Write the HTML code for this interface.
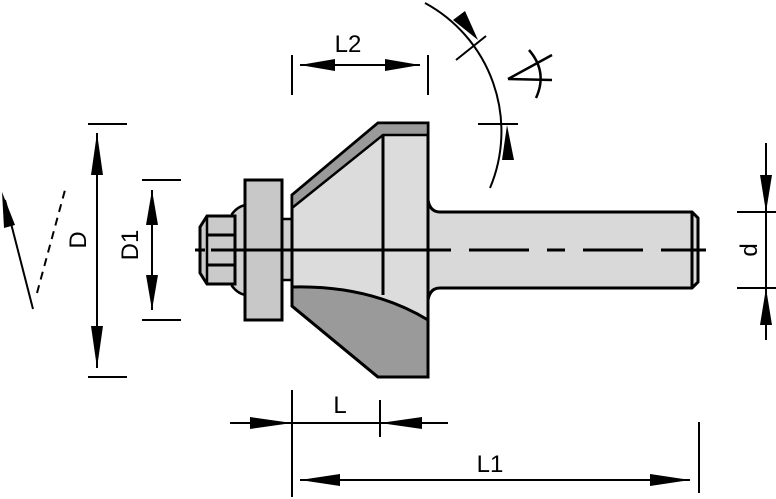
<!DOCTYPE html>
<html><head><meta charset="utf-8"><style>html,body{margin:0;padding:0;background:#fff}svg{display:block}</style></head>
<body>
<svg width="776" height="499" viewBox="0 0 776 499" xmlns="http://www.w3.org/2000/svg" font-family="Liberation Sans, sans-serif">
<path d="M428,200 Q430,212 440,212 L692,212 L698,218 L698,282 L692,288 L440,288 Q430,288 428,300 Z" fill="#d9d9d9" stroke="#000" stroke-width="3"/>
<line x1="692" y1="212" x2="692" y2="288" stroke="#000" stroke-width="3"/>
<path d="M232,214 Q238,206 246,205 L246,295 Q238,294 232,286 Z" fill="#d0d0d0" stroke="#000" stroke-width="2.5"/>
<path d="M207,216 L235,216 L235,284 L207,284 L200,273 L200,227 Z" fill="#cacaca" stroke="#000" stroke-width="3"/>
<line x1="207" y1="216" x2="207" y2="284" stroke="#000" stroke-width="2.5"/>
<line x1="207" y1="235" x2="235" y2="235" stroke="#000" stroke-width="3"/>
<line x1="207" y1="265" x2="235" y2="265" stroke="#000" stroke-width="3"/>
<rect x="282" y="219" width="10" height="61" fill="#d0d0d0" stroke="#000" stroke-width="2.5"/>
<rect x="245" y="180" width="37" height="140" fill="#c8c8c8" stroke="#000" stroke-width="3"/>
<path d="M292,195 L378,123 L428,123 L428,377 L378,377 L292,306 Z" fill="#dcdcdc" stroke="#000" stroke-width="3"/>
<path d="M292,195 L378,123 L428,123 L428,135 L383,135 L292,208 Z" fill="#9a9a9a" stroke="#000" stroke-width="2.5"/>
<path d="M292,287 Q370,285 428,320 L428,377 L378,377 L292,306 Z" fill="#9a9a9a" stroke="#000" stroke-width="3"/>
<line x1="383" y1="135" x2="383" y2="295" stroke="#000" stroke-width="3"/>
<line x1="195" y1="250" x2="706" y2="250" stroke="#000" stroke-width="3" stroke-dasharray="10,6 240,18 60,18 18,18 60,18 300"/>
<g stroke="#000" stroke-width="2">
<line x1="88" y1="124" x2="127" y2="124"/><line x1="88" y1="377" x2="127" y2="377"/>
<line x1="97" y1="133" x2="97" y2="368"/>
<line x1="142" y1="180" x2="181" y2="180"/><line x1="142" y1="320" x2="181" y2="320"/>
<line x1="152" y1="190" x2="152" y2="310"/>
<line x1="292" y1="55" x2="292" y2="95"/><line x1="428" y1="55" x2="428" y2="95"/>
<line x1="300" y1="65" x2="420" y2="65"/>
<line x1="230" y1="423" x2="448" y2="423"/>
<line x1="292" y1="390" x2="292" y2="497"/><line x1="380" y1="400" x2="380" y2="437"/>
<line x1="300" y1="480" x2="690" y2="480"/>
<line x1="699" y1="422" x2="699" y2="493"/>
<line x1="737" y1="212" x2="776" y2="212"/><line x1="737" y1="288" x2="776" y2="288"/>
<line x1="766" y1="143" x2="766" y2="340"/>
<line x1="33" y1="309" x2="5" y2="200"/>
<line x1="37" y1="293" x2="65" y2="190" stroke-dasharray="8,6"/>
<path d="M425,3 A146,146 0 0 1 490,188" fill="none"/>
<line x1="456" y1="60" x2="486" y2="36"/>
<line x1="478" y1="124" x2="518" y2="124"/>
<line x1="508" y1="79" x2="552" y2="55" stroke-width="2.5"/>
<line x1="508" y1="79" x2="552" y2="80" stroke-width="2.5"/>
<path d="M529,50 Q548,72 536,98" fill="none" stroke-width="2.5"/>
</g>
<g fill="#000">
<polygon points="97,133 91,175 103,175"/><polygon points="97,368 91,326 103,326"/>
<polygon points="152,190 146,225 158,225"/><polygon points="152,310 146,275 158,275"/>
<polygon points="300,65 335,59 335,71"/><polygon points="420,65 385,59 385,71"/>
<polygon points="292,423 250,417 250,429"/><polygon points="380,423 422,417 422,429"/>
<polygon points="300,480 340,474 340,486"/><polygon points="690,480 650,474 650,486"/>
<polygon points="766,212 760,175 772,175"/><polygon points="766,288 760,325 772,325"/>
<polygon points="2,192 4,228 15,225"/>
<polygon points="478,40 453,20 465,11"/>
<polygon points="507,125 502,160 514,160"/>
</g>
<g font-size="24" fill="#000">
<text x="348" y="52" text-anchor="middle">L2</text>
<text x="340" y="413" text-anchor="middle">L</text>
<text x="490" y="472" text-anchor="middle">L1</text>
<text transform="translate(86,240) rotate(-90)" text-anchor="middle">D</text>
<text transform="translate(138,245) rotate(-90)" text-anchor="middle">D1</text>
<text transform="translate(757,250) rotate(-90)" text-anchor="middle">d</text>
</g>
</svg>
</body></html>
